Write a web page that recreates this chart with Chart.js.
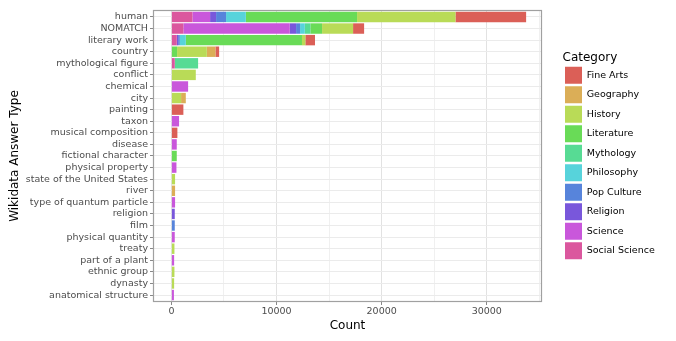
<!DOCTYPE html>
<html>
<head>
<meta charset="utf-8">
<script src="https://cdn.jsdelivr.net/npm/chart.js@4.4.1/dist/chart.umd.min.js"></script>
<style>
  html, body { margin: 0; padding: 0; background: #fff; }
</style>
</head>
<body>
<canvas id="chart" width="676" height="341"></canvas>
<script>
// rows, top to bottom
const answerTypes = [
    'human', 'NOMATCH', 'literary work', 'country', 'mythological figure',
    'conflict', 'chemical', 'city', 'painting', 'taxon',
    'musical composition', 'disease', 'fictional character', 'physical property',
    'state of the United States', 'river', 'type of quantum particle', 'religion',
    'film', 'physical quantity', 'treaty', 'part of a plant', 'ethnic group',
    'dynasty', 'anatomical structure'
];

const categories = ['Fine Arts', 'Geography', 'History', 'Literature', 'Mythology',
    'Philosophy', 'Pop Culture', 'Religion', 'Science', 'Social Science'];

const colors = ['#DB5F57', '#DBAE57', '#B9DB57', '#69DB57', '#57DB94',
    '#57D3DB', '#5784DB', '#7957DB', '#C957DB', '#DB579E'];

// counts per row, same order as answerTypes
const fineArts      = [6720, 1050, 920, 350, 0, 0, 0, 0, 1140, 0, 570, 0, 0, 0, 0, 0, 0, 0, 0, 0, 0, 0, 0, 0, 0];
const geography     = [0, 0, 0, 820, 0, 0, 0, 450, 0, 0, 0, 0, 0, 0, 0, 350, 0, 0, 0, 0, 0, 0, 0, 0, 0];
const history       = [9360, 2950, 320, 2830, 0, 2320, 0, 920, 0, 0, 0, 0, 0, 0, 350, 0, 0, 0, 0, 0, 290, 0, 290, 260, 0];
const literature    = [10580, 1110, 11050, 540, 0, 0, 0, 0, 0, 0, 0, 0, 510, 0, 0, 0, 0, 0, 0, 0, 0, 0, 0, 0, 0];
const mythology     = [0, 530, 0, 0, 2220, 0, 0, 0, 0, 0, 0, 0, 0, 0, 0, 0, 0, 0, 0, 0, 0, 0, 0, 0, 0];
const philosophy    = [1880, 450, 570, 0, 0, 0, 0, 0, 0, 0, 0, 0, 0, 0, 0, 0, 0, 0, 0, 0, 0, 0, 0, 0, 0];
const popCulture    = [950, 380, 160, 0, 0, 0, 0, 0, 0, 0, 0, 0, 0, 0, 0, 0, 0, 0, 320, 0, 0, 0, 0, 0, 0];
const religion      = [570, 600, 130, 0, 0, 0, 0, 0, 0, 0, 0, 0, 0, 0, 0, 0, 0, 320, 0, 0, 0, 0, 0, 0, 0];
const science       = [1680, 10120, 0, 0, 0, 0, 1590, 0, 0, 730, 0, 510, 0, 480, 0, 0, 350, 0, 0, 320, 0, 260, 0, 0, 240];
const socialScience = [2000, 1140, 510, 0, 320, 0, 0, 0, 0, 0, 0, 0, 0, 0, 0, 0, 0, 0, 0, 0, 0, 0, 0, 0, 0];

const xTickValues = [0, 5000, 10000, 15000, 20000, 25000, 30000, 35000];

const seriesValues = [fineArts, geography, history, literature, mythology,
    philosophy, popCulture, religion, science, socialScience];

// stack from Social Science (left) to Fine Arts (right)
const datasets = categories.map((name, k) => ({
    label: name,
    data: seriesValues[k].map((v, i) => ({ x: v, y: i })),
    backgroundColor: colors[k],
    borderWidth: 0
})).reverse();

// put the legend where ggplot has it and draw the panel frame
const panelFrame = {
    id: 'panelFrame',
    beforeLayout(chart) {
        const lg = chart.legend;
        if (lg && !lg._fixed) {
            const fit = lg.fit.bind(lg);
            lg.fit = function () { fit(); this.width = 134; };
            lg._fixed = true;
        }
    },
    afterLayout(chart) {
        const lg = chart.legend;
        lg.left = 562.5;
        lg.right = 676;
        lg.width = lg.right - lg.left;
    },
    afterDraw(chart) {
        const { ctx, chartArea: a } = chart;
        ctx.save();
        ctx.strokeStyle = '#a0a0a0';
        ctx.lineWidth = 1.2;
        ctx.strokeRect(a.left + 0.5, a.top + 0.5, a.right - a.left - 1, a.bottom - a.top - 1);
        ctx.restore();
    }
};

Chart.defaults.font.family = '"DejaVu Sans", sans-serif';

new Chart(document.getElementById('chart'), {
    type: 'bar',
    data: { datasets: datasets },
    plugins: [panelFrame],
    options: {
        indexAxis: 'y',
        responsive: false,
        animation: false,
        devicePixelRatio: 1,
        layout: { padding: { top: 10, right: 0, bottom: 0, left: 0 } },
        datasets: { bar: { categoryPercentage: 0.9, barPercentage: 1.0 } },
        scales: {
            x: {
                type: 'linear',
                stacked: true,
                min: -1750,
                max: 35250,
                afterBuildTicks: s => { s.ticks = xTickValues.map(v => ({ value: v })); },
                afterFit: s => { s.height = 39; },
                ticks: {
                    autoSkip: false,
                    maxRotation: 0,
                    padding: 1,
                    color: '#4d4d4d',
                    font: { size: 9.5 },
                    callback: v => (v % 10000 === 0 ? String(v) : '')
                },
                grid: {
                    color: c => (c.tick && c.tick.value % 10000 === 0 ? '#e2e2e2' : '#f0f0f0'),
                    tickColor: c => (c.tick && c.tick.value % 10000 === 0 ? '#888' : 'rgba(0,0,0,0)'),
                    tickLength: 3
                },
                border: { display: false },
                title: {
                    display: true,
                    text: 'Count',
                    color: '#000',
                    font: { size: 12 },
                    padding: { top: 0, bottom: 8 }
                }
            },
            y: {
                type: 'linear',
                stacked: true,
                reverse: true,
                offset: false,
                min: -0.6,
                max: 24.6,
                afterBuildTicks: s => { s.ticks = answerTypes.map((t, i) => ({ value: i })); },
                afterFit: s => { s.width = 153; },
                ticks: {
                    autoSkip: false,
                    padding: 2,
                    color: '#4d4d4d',
                    font: { size: 9.5 },
                    callback: v => answerTypes[v]
                },
                grid: { offset: false, color: '#ebebeb', tickColor: '#888', tickLength: 3 },
                border: { display: false },
                title: {
                    display: true,
                    text: 'Wikidata Answer Type',
                    color: '#000',
                    font: { size: 12 },
                    padding: { top: 8, bottom: 0 }
                }
            }
        },
        plugins: {
            tooltip: { enabled: false },
            legend: {
                position: 'right',
                align: 'start',
                reverse: true,
                title: {
                    display: true,
                    text: 'Category',
                    position: 'start',
                    color: '#000',
                    font: { size: 12, lineHeight: 1 },
                    padding: { top: 42.3, bottom: 0 }
                },
                labels: {
                    boxWidth: 17,
                    boxHeight: 17,
                    padding: 2.5,
                    color: '#000',
                    font: { size: 9.5 }
                }
            }
        }
    }
});
</script>
</body>
</html>
